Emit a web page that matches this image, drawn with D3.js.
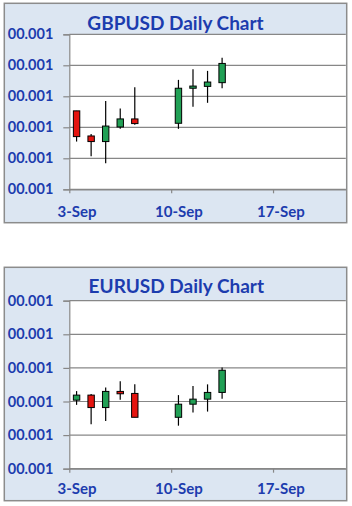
<!DOCTYPE html>
<html>
<head>
<meta charset="utf-8">
<script src="https://cdn.jsdelivr.net/npm/d3@7"></script>
<style>
  body { margin: 0; background: #ffffff; }
  svg { display: block; }
  text { font-family: Lato, "Open Sans", sans-serif; font-weight: bold; fill: #1c3cae; }
</style>
</head>
<body>
<div id="chart"></div>
<script>
// Trading days shown on both charts
const days = ["2018-09-03", "2018-09-04", "2018-09-05", "2018-09-06", "2018-09-07",
              "2018-09-10", "2018-09-11", "2018-09-12", "2018-09-13"];

// GBPUSD OHLC
const gbpOpen  = [1.2953, 1.2872, 1.2854, 1.2901, 1.2927, 1.2913, 1.3026, 1.3032, 1.3044];
const gbpHigh  = [1.2953, 1.2878, 1.2985, 1.2961, 1.3029, 1.3053, 1.3087, 1.3082, 1.3124];
const gbpLow   = [1.2854, 1.2807, 1.2784, 1.2895, 1.2908, 1.2895, 1.2966, 1.2979, 1.3026];
const gbpClose = [1.2870, 1.2854, 1.2904, 1.2927, 1.2912, 1.3026, 1.3033, 1.3046, 1.3106];

// EURUSD OHLC
const eurOpen  = [1.1504, 1.1519, 1.1482, 1.1530, 1.1524, 1.1453, 1.1492, 1.1507, 1.1527];
const eurHigh  = [1.1531, 1.1522, 1.1542, 1.1560, 1.1551, 1.1519, 1.1546, 1.1551, 1.1601];
const eurLow   = [1.1490, 1.1432, 1.1442, 1.1505, 1.1453, 1.1428, 1.1467, 1.1470, 1.1508];
const eurClose = [1.1519, 1.1482, 1.1530, 1.1523, 1.1453, 1.1492, 1.1507, 1.1527, 1.1593];

// Axis ticks (the source chart shows a broken number format on the value axis)
const gbpTicks = [1.27, 1.28, 1.29, 1.30, 1.31, 1.32];
const eurTicks = [1.13, 1.14, 1.15, 1.16, 1.17, 1.18];
const yTickLabels = ["00.001", "00.001", "00.001", "00.001", "00.001", "00.001"];
const xTickDates = ["2018-09-03", "2018-09-10", "2018-09-17"];
const xTickLabels = ["3-Sep", "10-Sep", "17-Sep"];

const parse = d3.utcParse("%Y-%m-%d");
const DAY = 24 * 3600 * 1000;

const svg = d3.select('#chart').append('svg')
    .attr('width', 352)
    .attr('height', 506);

function buildRows(o, h, l, c) {
    return days.map((d, i) => ({ date: parse(d), open: o[i], high: h[i], low: l[i], close: c[i] }));
}

function drawChart(cfg) {
    const g = svg.append('g');

    // outer chart box
    g.append('rect')
        .attr('x', cfg.box[0]).attr('y', cfg.box[1])
        .attr('width', cfg.box[2] - cfg.box[0]).attr('height', cfg.box[3] - cfg.box[1])
        .attr('fill', '#dce6f2')
        .attr('stroke', '#8c8c8c')
        .attr('stroke-width', 1.5);

    const x = d3.scaleUtc()
        .domain([parse("2018-09-03"), parse("2018-09-22")])
        .range([cfg.plot.left, cfg.plot.right]);
    const y = d3.scaleLinear()
        .domain([cfg.ticks[0], cfg.ticks[cfg.ticks.length - 1]])
        .range([cfg.plot.bottom, cfg.plot.top]);

    // plot area
    g.append('rect')
        .attr('x', cfg.plot.left).attr('y', cfg.plot.top)
        .attr('width', cfg.plot.right - cfg.plot.left)
        .attr('height', cfg.plot.bottom - cfg.plot.top)
        .attr('fill', '#ffffff');

    // horizontal gridlines
    g.selectAll('.grid')
        .data(cfg.ticks)
        .enter().append('line')
        .attr('x1', cfg.plot.left).attr('x2', cfg.plot.right)
        .attr('y1', d => y(d)).attr('y2', d => y(d))
        .attr('stroke', '#878787')
        .attr('stroke-width', 1.2);

    // value axis
    const yAxis = g.append('g')
        .attr('transform', `translate(${cfg.plot.left},0)`)
        .call(d3.axisLeft(y).tickValues(cfg.ticks)
            .tickFormat((d, i) => yTickLabels[i])
            .tickSize(6).tickPadding(10));
    yAxis.select('.domain').attr('stroke', '#878787').attr('stroke-width', 1.2);
    yAxis.selectAll('.tick line').attr('stroke', '#878787').attr('stroke-width', 1.2);
    yAxis.selectAll('text').style('font-size', '14.5px').attr('fill', '#1c3cae');

    // date axis: ticks on day boundaries, labels centred in the day slot
    const halfDay = x(new Date(parse("2018-09-03").getTime() + DAY / 2)) - x(parse("2018-09-03"));
    const xAxis = g.append('g')
        .attr('transform', `translate(0,${cfg.plot.bottom})`)
        .call(d3.axisBottom(x).tickValues(xTickDates.map(parse))
            .tickFormat((d, i) => xTickLabels[i])
            .tickSizeInner(4).tickSizeOuter(0));
    xAxis.select('.domain').attr('stroke', '#878787').attr('stroke-width', 1.2);
    xAxis.selectAll('.tick line').attr('stroke', '#878787').attr('stroke-width', 1.2);
    xAxis.selectAll('text')
        .attr('x', halfDay)
        .attr('y', cfg.xLabelOffset)
        .attr('dy', 0)
        .style('font-size', '15px')
        .attr('fill', '#1c3cae');

    // title
    g.append('text')
        .attr('x', cfg.titleX)
        .attr('y', cfg.titleY)
        .attr('text-anchor', 'middle')
        .style('font-size', '19px')
        .text(cfg.title);

    // candles
    const candle = g.selectAll('.candle')
        .data(cfg.rows)
        .enter().append('g')
        .attr('transform', d => `translate(${x(new Date(d.date.getTime() + DAY / 2))},0)`);

    candle.append('line')
        .attr('y1', d => y(d.high))
        .attr('y2', d => y(d.low))
        .attr('stroke', '#000000')
        .attr('stroke-width', 1.2);

    candle.append('rect')
        .attr('x', -3.2)
        .attr('width', 6.4)
        .attr('y', d => y(Math.max(d.open, d.close)))
        .attr('height', d => Math.max(1.5, Math.abs(y(d.open) - y(d.close))))
        .attr('fill', d => d.close >= d.open ? '#21a055' : '#e5140f')
        .attr('stroke', '#000000')
        .attr('stroke-width', 1);
}

drawChart({
    title: "GBPUSD Daily Chart",
    rows: buildRows(gbpOpen, gbpHigh, gbpLow, gbpClose),
    ticks: gbpTicks,
    box: [4.3, 3.3, 346.7, 222.7],
    plot: { left: 69.3, right: 345.8, top: 34.3, bottom: 189.3 },
    titleX: 175.5, titleY: 30,
    xLabelOffset: 27.4
});

drawChart({
    title: "EURUSD Daily Chart",
    rows: buildRows(eurOpen, eurHigh, eurLow, eurClose),
    ticks: eurTicks,
    box: [4.3, 267.3, 346.7, 500.7],
    plot: { left: 69.3, right: 345.8, top: 300.7, bottom: 468.7 },
    titleX: 176.3, titleY: 293.3,
    xLabelOffset: 25.8
});
</script>
</body>
</html>
